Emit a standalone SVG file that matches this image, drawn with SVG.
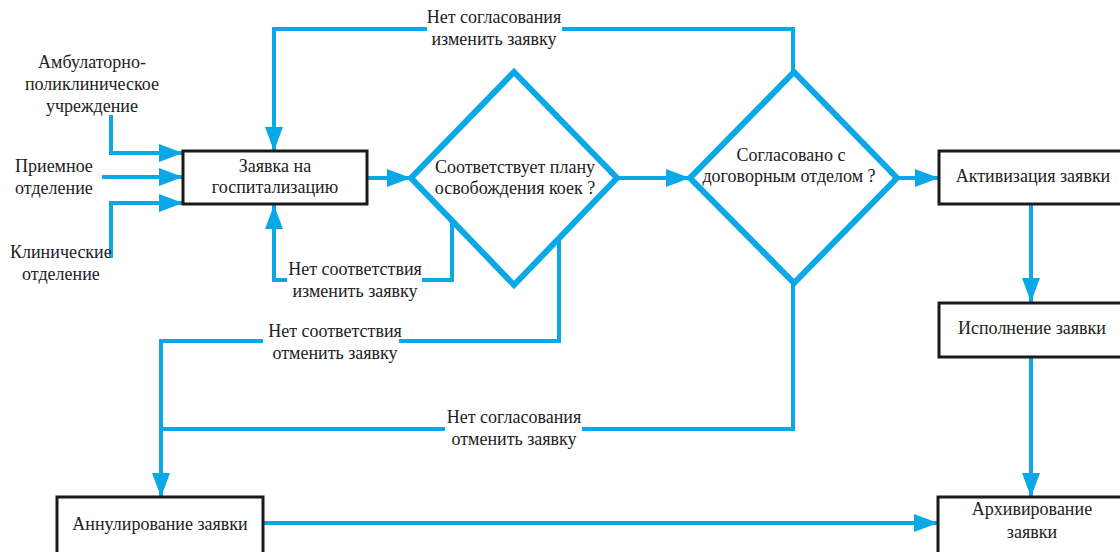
<svg xmlns="http://www.w3.org/2000/svg" width="1120" height="552" viewBox="0 0 1120 552" font-family="'Liberation Serif', 'DejaVu Serif', serif">
<style>
  text { font-size: 18px; fill: #222; }
  .c { text-anchor: middle; }
  .box { fill: #fff; stroke: #1a1a1a; stroke-width: 3; }
  .dia { fill: #fff; stroke: #0aa8e6; stroke-width: 6; stroke-linejoin: miter; }
  .ln { fill: none; stroke: #0aa8e6; stroke-width: 4; stroke-linejoin: miter; }
  .arr { marker-end: url(#ah); }
</style>
<defs>
  <marker id="ah" markerUnits="userSpaceOnUse" markerWidth="24" markerHeight="18" refX="24" refY="9" orient="auto" viewBox="0 0 24 18">
    <path d="M0,0 L24,9 L0,18 z" fill="#0aa8e6"/>
  </marker>
</defs>
<rect width="1120" height="552" fill="#fff"/>

<g id="connectors">
  <path class="ln arr" d="M111,115 V153 H183"/>
  <path class="ln arr" d="M102,177 H183"/>
  <path class="ln arr" d="M111,258 V203 H183"/>
  <path class="ln arr" d="M367,178 H411"/>
  <path class="ln arr" d="M618,178 H690"/>
  <path class="ln arr" d="M898,178 H939"/>
  <path class="ln arr" d="M1031,204 V302"/>
  <path class="ln arr" d="M1031,358 V497"/>
  <path class="ln arr" d="M263,523 H938"/>
  <path class="ln" d="M452,221 V280 H422"/>
  <path class="ln arr" d="M287,280 H274 V205"/>
  <path class="ln" d="M793,72 V29 H562"/>
  <path class="ln arr" d="M427,29 H274 V151"/>
  <path class="ln" d="M559,238 V341 H399"/>
  <path class="ln arr" d="M263,341 H161 V497"/>
  <path class="ln" d="M793,283 V429 H582"/>
  <path class="ln" d="M445,429 H161"/>
</g>

<g id="src-amb">
  <text class="c" x="92" y="68">Амбулаторно-</text>
  <text class="c" x="92" y="90">поликлиническое</text>
  <text class="c" x="92" y="112">учреждение</text>
</g>
<g id="src-priem">
  <text x="15" y="172">Приемное</text>
  <text x="15" y="194">отделение</text>
</g>
<g id="src-klin">
  <text x="10" y="258">Клинические</text>
  <text x="22" y="280">отделение</text>
</g>

<g id="n-zayavka">
  <rect class="box" x="183" y="151" width="184" height="53"/>
  <text class="c" x="275" y="172">Заявка на</text>
  <text class="c" x="275" y="193">госпитализацию</text>
</g>

<g id="d-plan">
  <polygon class="dia" points="514,72 617,178 514,285 411,178"/>
  <text class="c" x="515" y="173">Соответствует плану</text>
  <text class="c" x="515" y="194">освобождения коек ?</text>
</g>

<g id="d-dogovor">
  <polygon class="dia" points="794,72 897,178 794,283 690,178"/>
  <text class="c" x="791" y="161">Согласовано с</text>
  <text class="c" x="789" y="182">договорным отделом ?</text>
</g>

<g id="n-activ">
  <rect class="box" x="939" y="151" width="190" height="53"/>
  <text class="c" x="1033" y="182">Активизация заявки</text>
</g>

<g id="n-ispoln">
  <rect class="box" x="939" y="303" width="190" height="54"/>
  <text class="c" x="1032" y="334">Исполнение заявки</text>
</g>

<g id="n-annul">
  <rect class="box" x="57" y="497" width="206" height="64"/>
  <text class="c" x="160" y="530">Аннулирование заявки</text>
</g>

<g id="n-arhiv">
  <rect class="box" x="938" y="497" width="190" height="64"/>
  <text class="c" x="1032" y="515">Архивирование</text>
  <text class="c" x="1032" y="538">заявки</text>
</g>

<g id="labels">
  <text class="c" x="494" y="23">Нет согласования</text>
  <text class="c" x="494" y="45">изменить заявку</text>
  <text class="c" x="355" y="275">Нет соответствия</text>
  <text class="c" x="355" y="297">изменить заявку</text>
  <text class="c" x="335" y="337">Нет соответствия</text>
  <text class="c" x="335" y="359">отменить заявку</text>
  <text class="c" x="514" y="423">Нет согласования</text>
  <text class="c" x="514" y="445">отменить заявку</text>
</g>
</svg>
